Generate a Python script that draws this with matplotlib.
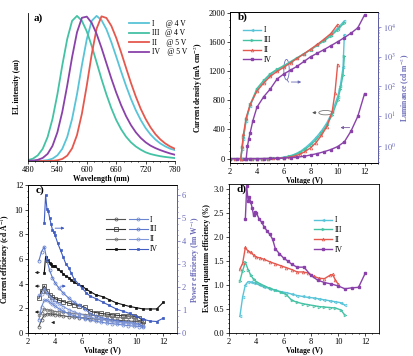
import matplotlib
matplotlib.use('Agg')
import matplotlib.pyplot as plt
import numpy as np
from matplotlib.patches import Ellipse
from matplotlib.lines import Line2D
from matplotlib.ticker import MultipleLocator, NullFormatter, FormatStrFormatter

plt.rcParams['font.family'] = 'serif'
plt.rcParams['font.serif'] = ['Liberation Serif', 'DejaVu Serif']
plt.rcParams['mathtext.fontset'] = 'stix'
plt.rcParams['font.size'] = 5.5
plt.rcParams['xtick.labelsize'] = 6
plt.rcParams['ytick.labelsize'] = 6
plt.rcParams['axes.linewidth'] = 0.6
plt.rcParams['xtick.major.size'] = 2.0
plt.rcParams['ytick.major.size'] = 2.0
plt.rcParams['xtick.minor.size'] = 1.0
plt.rcParams['ytick.minor.size'] = 1.0
plt.rcParams['xtick.major.width'] = 0.5
plt.rcParams['ytick.major.width'] = 0.5
plt.rcParams['xtick.major.pad'] = 1.5
plt.rcParams['ytick.major.pad'] = 1.5

#### Colours ####
COL_I   = "#58c4d8"  #cyan
COL_III = "#44c2a4"  #teal
COL_II  = "#e5584e"  #red
COL_IV  = "#8a42aa"  #purple
COL_PE  = "#3f5cc0"  #blue
COL_AX  = "#6a6ab8"  #right axis

###########################################################################
#### DATA - a) EL spectra ####
wl = [480, 490, 500, 510, 520, 530, 540, 550, 560, 570, 580, 590, 600, 610, 620, 630,
      640, 650, 660, 670, 680, 690, 700, 710, 720, 730, 740, 750, 760, 770, 780]
el_I   = [0, 0, 0.001, 0.002, 0.006, 0.016, 0.039, 0.084, 0.165, 0.29, 0.46, 0.66, 0.84, 0.966, 1.0, 0.971,
          0.908, 0.82, 0.72, 0.617, 0.519, 0.429, 0.35, 0.283, 0.227, 0.183, 0.148, 0.121, 0.101, 0.085, 0.075]
el_III = [0.006, 0.016, 0.039, 0.084, 0.165, 0.29, 0.46, 0.66, 0.84, 0.966, 1.0, 0.966, 0.893, 0.793, 0.68, 0.565,
          0.459, 0.364, 0.283, 0.219, 0.168, 0.129, 0.1, 0.078, 0.06, 0.048, 0.04, 0.033, 0.028, 0.024, 0.02]
el_II  = [0, 0, 0, 0, 0, 0.001, 0.005, 0.014, 0.037, 0.087, 0.179, 0.326, 0.521, 0.735, 0.912, 0.997,
          0.986, 0.932, 0.849, 0.749, 0.643, 0.539, 0.444, 0.36, 0.29, 0.232, 0.185, 0.149, 0.121, 0.1, 0.084]
el_IV  = [0.001, 0.003, 0.008, 0.021, 0.049, 0.104, 0.198, 0.339, 0.519, 0.716, 0.887, 0.987, 0.995, 0.952, 0.876, 0.78,
          0.674, 0.569, 0.472, 0.385, 0.31, 0.248, 0.198, 0.159, 0.129, 0.106, 0.089, 0.075, 0.063, 0.052, 0.043]

#### DATA - b) J-V-L ####
vj    = [2.0, 2.4, 2.8, 3.2, 3.6, 4.0, 4.4, 4.8, 5.2, 5.6, 6.0, 6.4, 6.8, 7.2, 7.6, 8.0, 8.4, 8.8, 9.2, 9.6, 10.0, 10.2, 10.4, 10.5]
j_I   = [0, 0, 0, 0, 0, 0, 0, 1, 3, 8, 20, 35, 60, 95, 150, 214, 290, 380, 490, 640, 850, 1000, 1250, 1700]
j_III = [0, 0, 0, 0, 0, 0, 0, 1, 2, 6, 15, 30, 50, 85, 130, 190, 260, 350, 460, 600, 800, 950, 1150, 1400]
vj_II = [2.0, 2.4, 2.8, 3.2, 3.6, 4.0, 4.4, 4.8, 5.2, 5.6, 6.0, 6.4, 6.8, 7.2, 7.6, 8.0, 8.4, 8.8, 9.2, 9.6, 9.8, 10.0]
j_II  = [0, 0, 0, 0, 0, 0, 0, 1, 2, 5, 10, 20, 35, 60, 100, 150, 220, 320, 440, 650, 900, 1290]
vj_IV = [2.0, 2.5, 3.0, 3.5, 4.0, 4.5, 5.0, 5.5, 6.0, 6.5, 7.0, 7.5, 8.0, 8.5, 9.0, 9.5, 10.0, 10.5, 11.0, 11.5, 12.0]
j_IV  = [0, 0, 0, 0, 0, 1, 2, 3, 8, 13, 20, 32, 50, 70, 95, 125, 165, 230, 380, 580, 890]

vl    = [2.8, 2.9, 3.0, 3.2, 3.5, 4.0, 4.5, 5.0, 5.5, 6.0, 6.5, 7.0, 7.5, 8.0, 8.5, 9.0, 9.5, 10.0, 10.5]
l_I   = [0.36, 0.79, 1.78, 7.1, 22.4, 76, 141, 251, 355, 479, 661, 912, 1259, 1738, 2512, 3631, 5495, 9120, 15850]
l_III = [0.36, 0.9, 2.0, 8.0, 25, 85, 160, 270, 380, 500, 680, 930, 1250, 1700, 2400, 3400, 5000, 8000, 14000]
vl_II = [2.8, 2.9, 3.0, 3.2, 3.5, 4.0, 4.5, 5.0, 5.5, 6.0, 6.5, 7.0, 7.5, 8.0, 8.5, 9.0, 9.5, 10.0]
l_II  = [0.36, 1.0, 2.5, 9, 25, 70, 130, 220, 320, 440, 620, 880, 1250, 1800, 2600, 3900, 6000, 12000]
vl_IV = [3.2, 3.3, 3.4, 3.5, 3.7, 4.0, 4.5, 5.0, 5.5, 6.0, 6.5, 7.0, 7.5, 8.0, 8.5, 9.0, 9.5, 10.0, 10.5, 11.0, 11.5, 12.0]
l_IV  = [0.36, 1.0, 1.78, 2.8, 7.1, 20, 45, 83, 178, 263, 355, 479, 692, 1000, 1318, 1738, 2344, 3162, 4365, 6166, 9333, 25119]

#### DATA - c) and d) efficiencies ####
ve    = [2.8, 3.0, 3.2, 3.4, 3.6, 3.8, 4.0, 4.3, 4.6, 5.0, 5.4, 5.8, 6.2, 6.6, 7.0, 7.4, 7.8, 8.2, 8.6, 9.0, 9.4, 9.8, 10.2, 10.5]
ve_II = [2.8, 3.0, 3.2, 3.4, 3.6, 3.8, 4.0, 4.3, 4.6, 5.0, 5.4, 5.8, 6.2, 6.6, 7.0, 7.4, 7.8, 8.2, 8.6, 9.0, 9.4, 9.6, 9.8, 10.0]
ve_IV = [3.2, 3.3, 3.4, 3.5, 3.6, 3.7, 3.8, 3.9, 4.0, 4.2, 4.4, 4.6, 4.8, 5.0, 5.2, 5.4, 5.7, 6.0, 6.3, 6.6,
         7.0, 7.5, 8.0, 8.5, 9.0, 9.5, 10.0, 10.5, 11.0, 11.5, 12.0]

ce_I   = [0.51, 1.09, 1.45, 1.55, 1.54, 1.52, 1.49, 1.44, 1.39, 1.33, 1.29, 1.25, 1.22, 1.17, 1.13, 1.10, 1.07, 1.06, 1.03, 1.0, 0.97, 0.94, 0.91, 0.84]
ce_III = [2.8, 3.38, 3.82, 3.43, 3.12, 2.91, 2.78, 2.65, 2.55, 2.42, 2.31, 2.21, 2.08, 1.77, 1.66, 1.59, 1.53, 1.48, 1.43, 1.4, 1.38, 1.35, 1.25, 0.96]
ce_II  = [1.46, 1.6, 1.96, 1.87, 1.85, 1.78, 1.74, 1.72, 1.68, 1.63, 1.58, 1.54, 1.5, 1.45, 1.4, 1.4, 1.38, 1.3, 1.25, 1.24, 1.32, 1.34, 1.21, 1.12]
ce_IV  = [4.9, 6.2, 5.8, 5.9, 5.7, 5.6, 5.4, 5.45, 5.4, 5.2, 5.0, 4.8, 4.6, 4.5, 4.3, 4.1, 3.95, 3.8, 3.55, 3.35,
          3.1, 2.95, 2.7, 2.45, 2.3, 2.15, 2.05, 1.95, 1.95, 1.95, 2.5]

pe_I   = [0.57, 1.14, 1.42, 1.43, 1.34, 1.26, 1.17, 1.05, 0.95, 0.84, 0.75, 0.68, 0.62, 0.56, 0.51, 0.47, 0.43, 0.41, 0.38, 0.35, 0.32, 0.3, 0.28, 0.25]
pe_III = [3.14, 3.54, 3.75, 3.17, 2.72, 2.41, 2.18, 1.94, 1.74, 1.52, 1.34, 1.2, 1.05, 0.84, 0.75, 0.67, 0.62, 0.57, 0.52, 0.49, 0.46, 0.43, 0.38, 0.29]
pe_II  = [1.64, 1.68, 1.92, 1.73, 1.61, 1.47, 1.37, 1.26, 1.15, 1.02, 0.92, 0.83, 0.76, 0.69, 0.63, 0.59, 0.56, 0.5, 0.46, 0.43, 0.44, 0.44, 0.39, 0.35]
pe_IV  = [4.8, 6.0, 5.4, 5.3, 5.0, 4.75, 4.5, 4.4, 4.25, 3.9, 3.6, 3.3, 3.0, 2.85, 2.6, 2.35, 2.15, 1.95, 1.75, 1.6,
          1.5, 1.35, 1.2, 1.05, 0.95, 0.85, 0.72, 0.6, 0.52, 0.5, 0.65]

eqe_I   = [0.35, 0.75, 1.0, 1.07, 1.06, 1.05, 1.03, 0.99, 0.96, 0.92, 0.89, 0.86, 0.84, 0.81, 0.78, 0.76, 0.74, 0.73, 0.71, 0.69, 0.67, 0.65, 0.63, 0.58]
eqe_III = [1.08, 1.3, 1.47, 1.32, 1.2, 1.12, 1.07, 1.02, 0.98, 0.93, 0.89, 0.85, 0.8, 0.68, 0.64, 0.61, 0.59, 0.57, 0.55, 0.54, 0.53, 0.52, 0.48, 0.37]
eqe_II  = [1.33, 1.45, 1.78, 1.7, 1.68, 1.62, 1.58, 1.56, 1.53, 1.48, 1.44, 1.4, 1.36, 1.32, 1.27, 1.27, 1.25, 1.18, 1.14, 1.13, 1.2, 1.22, 1.1, 1.02]
eqe_IV  = [2.38, 3.05, 2.75, 2.82, 2.72, 2.6, 2.45, 2.52, 2.5, 2.38, 2.3, 2.2, 2.12, 2.05, 1.95, 1.75, 1.65, 1.56, 1.5, 1.43,
           1.37, 1.37, 1.2, 1.1, 1.05, 1.02, 0.98, 0.92, 0.94, 0.95, 1.25]

labels = ["I", "III", "II", "IV"]

###########################################################################
fig = plt.figure(figsize=(4.13, 3.56), dpi=100)
W, H = 413.0, 356.0
def box(x0, x1, ytop, ybot):
    return [x0 / W, 1 - ybot / H, (x1 - x0) / W, (ybot - ytop) / H]

ax_a = fig.add_axes(box(28, 175, 13, 161))
ax_b = fig.add_axes(box(230, 378, 12, 163))
ax_c = fig.add_axes(box(28, 177, 185, 333))
ax_d = fig.add_axes(box(229, 379, 184, 333))

###########################################################################
#Chart a).
for y, c, lab in [(el_I, COL_I, "I      @ 4 V"), (el_III, COL_III, "III   @ 4 V"),
                  (el_II, COL_II, "II     @ 5 V"), (el_IV, COL_IV, "IV    @ 5 V")]:
    ax_a.plot(wl, y, color=c, lw=1.3, label=lab)
ax_a.set_xlim(480, 780)
ax_a.set_ylim(0, 1.02)
ax_a.xaxis.set_major_locator(MultipleLocator(60))
ax_a.xaxis.set_minor_locator(MultipleLocator(15))
ax_a.set_yticks([])
ax_a.spines['top'].set_visible(False)
ax_a.spines['right'].set_visible(False)
ax_a.set_xlabel("Wavelength (nm)", fontweight='bold', labelpad=1)
ax_a.set_ylabel("EL intensity (au)", fontweight='bold', labelpad=5)
ax_a.legend(loc='upper left', bbox_to_anchor=(0.64, 1.0), frameon=False, handlelength=2.6,
            labelspacing=0.2, handletextpad=0.4, fontsize=5.5)
ax_a.text(0.04, 1.0, "a)", transform=ax_a.transAxes, fontsize=8, fontweight='bold', va='top')

###########################################################################
#Chart b).
ax_b2 = ax_b.twinx()
ax_b.plot(vj, j_I, color=COL_I, lw=1.0, marker='<', ms=2, mfc='none', mew=0.5, label="I")
ax_b.plot(vj, j_III, color=COL_III, lw=1.0, marker='>', ms=2, mfc='none', mew=0.5, label="III")
ax_b.plot(vj_II, j_II, color=COL_II, lw=1.0, marker='^', ms=2, mfc='none', mew=0.5, label="II")
ax_b.plot(vj_IV, j_IV, color=COL_IV, lw=1.0, marker='s', ms=1.6, label="IV")
ax_b2.plot(vl, l_I, color=COL_I, lw=1.0, marker='<', ms=2, mfc='none', mew=0.5)
ax_b2.plot(vl, l_III, color=COL_III, lw=1.0, marker='>', ms=2, mfc='none', mew=0.5)
ax_b2.plot(vl_II, l_II, color=COL_II, lw=1.0, marker='^', ms=2, mfc='none', mew=0.5)
ax_b2.plot(vl_IV, l_IV, color=COL_IV, lw=1.0, marker='s', ms=1.6)
ax_b.set_xlim(2, 13)
ax_b.set_ylim(-60, 2010)
ax_b2.set_yscale('log')
ax_b2.set_ylim(0.27, 31600)
ax_b2.set_yticks([1, 10, 100, 1000, 10000])
ax_b2.set_yticklabels(["$10^{0}$", "$10^{1}$", "$10^{2}$", "$10^{3}$", "$10^{4}$"])
ax_b2.yaxis.set_minor_formatter(NullFormatter())
ax_b.xaxis.set_major_locator(MultipleLocator(2))
ax_b.xaxis.set_minor_locator(MultipleLocator(0.5))
ax_b.yaxis.set_major_locator(MultipleLocator(400))
ax_b.yaxis.set_minor_locator(MultipleLocator(100))
ax_b.set_xlabel("Voltage (V)", fontweight='bold', labelpad=1)
ax_b.set_ylabel("Current density (mA cm$^{-2}$)", fontweight='bold', labelpad=2)
ax_b2.set_ylabel("Luminance (cd m$^{-2}$)", color=COL_AX, fontweight='bold', labelpad=2)
ax_b2.spines['right'].set_color(COL_AX)
ax_b2.tick_params(axis='y', which='both', colors=COL_AX)
ax_b.legend(loc='upper left', bbox_to_anchor=(0.04, 0.95), frameon=False, handlelength=2.4,
            labelspacing=0.25, handletextpad=0.4, fontsize=5.5)
ax_b.text(0.05, 1.0, "b)", transform=ax_b.transAxes, fontsize=8, fontweight='bold', va='top')
#annotations
ax_b.add_patch(Ellipse((6.2, 1220), 0.4, 280, fill=False, ec=COL_AX, lw=0.6))
ax_b.plot([6.25, 6.35], [1080, 1050], color=COL_AX, lw=0.6)
ax_b.annotate("", xy=(7.5, 1050), xytext=(6.35, 1050), arrowprops=dict(arrowstyle='-|>', color=COL_AX, lw=0.6, mutation_scale=4))
ax_b.add_patch(Ellipse((9.1, 630), 1.0, 60, fill=False, ec="#777777", lw=0.6))
ax_b.annotate("", xy=(7.9, 630), xytext=(8.6, 630), arrowprops=dict(arrowstyle='-|>', color="#555555", lw=0.6, mutation_scale=4))
ax_b.annotate("", xy=(10.0, 425), xytext=(11.1, 425), arrowprops=dict(arrowstyle='-|>', color="#7a5aa0", lw=0.6, mutation_scale=4))

###########################################################################
#Chart c).
ax_c2 = ax_c.twinx()
ax_c.plot(ve, ce_I, color="#555555", lw=0.8, marker='o', ms=2.2, mfc='none', mew=0.5)
ax_c.plot(ve, ce_III, color="#333333", lw=0.8, marker='s', ms=2.2, mfc='none', mew=0.5)
ax_c.plot(ve_II, ce_II, color="#777777", lw=0.8, marker='h', ms=2.2, mfc='none', mew=0.5)
ax_c.plot(ve_IV, ce_IV, color="#111111", lw=0.8, marker='s', ms=1.8, mfc="#111111", mew=0.5)
ax_c2.plot(ve, pe_I, color="#6a86d0", lw=0.8, marker='o', ms=2.2, mfc='none', mew=0.5)
ax_c2.plot(ve, pe_III, color="#5b78cc", lw=0.8, marker='o', ms=2.2, mfc='none', mew=0.5)
ax_c2.plot(ve_II, pe_II, color="#7f96d8", lw=0.8, marker='o', ms=2.2, mfc='none', mew=0.5)
ax_c2.plot(ve_IV, pe_IV, color=COL_PE, lw=0.8, marker='s', ms=1.8, mfc=COL_PE, mew=0.5)
ax_c.set_xlim(2, 13)
ax_c.set_ylim(0, 12)
ax_c2.set_ylim(0, 6.44)
ax_c.xaxis.set_major_locator(MultipleLocator(2))
ax_c.xaxis.set_minor_locator(MultipleLocator(0.5))
ax_c.yaxis.set_major_locator(MultipleLocator(2))
ax_c.yaxis.set_minor_locator(MultipleLocator(0.5))
ax_c2.yaxis.set_major_locator(MultipleLocator(1))
ax_c2.yaxis.set_minor_locator(MultipleLocator(0.25))
ax_c.set_xlabel("Voltage (V)", fontweight='bold', labelpad=1)
ax_c.set_ylabel("Current efficiency (cd A$^{-1}$)", fontweight='bold', labelpad=2)
ax_c2.set_ylabel("Power efficiency (lm W$^{-1}$)", color=COL_AX, fontweight='bold', labelpad=2)
ax_c2.spines['right'].set_color(COL_AX)
ax_c2.tick_params(axis='y', which='both', colors=COL_AX)
h_ce = [Line2D([], [], color="#555555", lw=0.8, marker='o', ms=2.2, mfc='none', mew=0.5),
        Line2D([], [], color="#333333", lw=0.8, marker='s', ms=2.2, mfc='none', mew=0.5),
        Line2D([], [], color="#777777", lw=0.8, marker='h', ms=2.2, mfc='none', mew=0.5),
        Line2D([], [], color="#111111", lw=0.8, marker='s', ms=1.8, mfc="#111111", mew=0.5)]
h_pe = [Line2D([], [], color="#6a86d0", lw=0.8, marker='o', ms=2.2, mfc='none', mew=0.5),
        Line2D([], [], color="#5b78cc", lw=0.8, marker='o', ms=2.2, mfc='none', mew=0.5),
        Line2D([], [], color="#7f96d8", lw=0.8, marker='o', ms=2.2, mfc='none', mew=0.5),
        Line2D([], [], color=COL_PE, lw=0.8, marker='s', ms=1.8, mfc=COL_PE, mew=0.5)]
ax_c.legend(h_ce + h_pe, ["", "", "", ""] + labels, ncol=2, loc='upper left', bbox_to_anchor=(0.48, 0.84),
            frameon=False, handlelength=2.4, labelspacing=0.25, handletextpad=0.3, columnspacing=0.3, fontsize=5.5)
ax_c.text(0.05, 1.0, "c)", transform=ax_c.transAxes, fontsize=8, fontweight='bold', va='top')
#arrows
for yv in [4.9, 3.8, 1.7]:
    ax_c.annotate("", xy=(2.3, yv), xytext=(3.05, yv), arrowprops=dict(arrowstyle='-|>', color="#222222", lw=0.6, mutation_scale=4))
ax_c.annotate("", xy=(4.9, 8.5), xytext=(3.8, 8.5), arrowprops=dict(arrowstyle='-|>', color=COL_PE, lw=0.6, mutation_scale=4))
ax_c.annotate("", xy=(5.0, 3.8), xytext=(4.2, 3.8), arrowprops=dict(arrowstyle='-|>', color=COL_PE, lw=0.6, mutation_scale=4))
ax_c.annotate("", xy=(3.5, 0.85), xytext=(4.1, 0.85), arrowprops=dict(arrowstyle='-|>', color="#222222", lw=0.6, mutation_scale=4))

###########################################################################
#Chart d).
ax_d.plot(ve, eqe_I, color=COL_I, lw=1.0, marker='<', ms=2, mfc='none', mew=0.5, label="I")
ax_d.plot(ve, eqe_III, color=COL_III, lw=1.0, marker='>', ms=2, mfc='none', mew=0.5, label="III")
ax_d.plot(ve_II, eqe_II, color=COL_II, lw=1.0, marker='^', ms=2, mfc='none', mew=0.5, label="II")
ax_d.plot(ve_IV, eqe_IV, color=COL_IV, lw=1.0, marker='s', ms=1.6, label="IV")
ax_d.set_xlim(2, 13)
ax_d.set_ylim(0, 3.1)
ax_d.xaxis.set_major_locator(MultipleLocator(2))
ax_d.xaxis.set_minor_locator(MultipleLocator(0.5))
ax_d.yaxis.set_major_locator(MultipleLocator(0.5))
ax_d.yaxis.set_minor_locator(MultipleLocator(0.1))
ax_d.yaxis.set_major_formatter(FormatStrFormatter('%.1f'))
ax_d.set_xlabel("Voltage (V)", fontweight='bold', labelpad=1)
ax_d.set_ylabel("External quantum efficiency (%)", fontweight='bold', labelpad=2)
ax_d.legend(loc='upper left', bbox_to_anchor=(0.52, 0.83), frameon=False, handlelength=2.4,
            labelspacing=0.25, handletextpad=0.4, fontsize=5.5)
ax_d.text(0.05, 1.0, "d)", transform=ax_d.transAxes, fontsize=8, fontweight='bold', va='top')

fig.savefig("out.png", dpi=100)
